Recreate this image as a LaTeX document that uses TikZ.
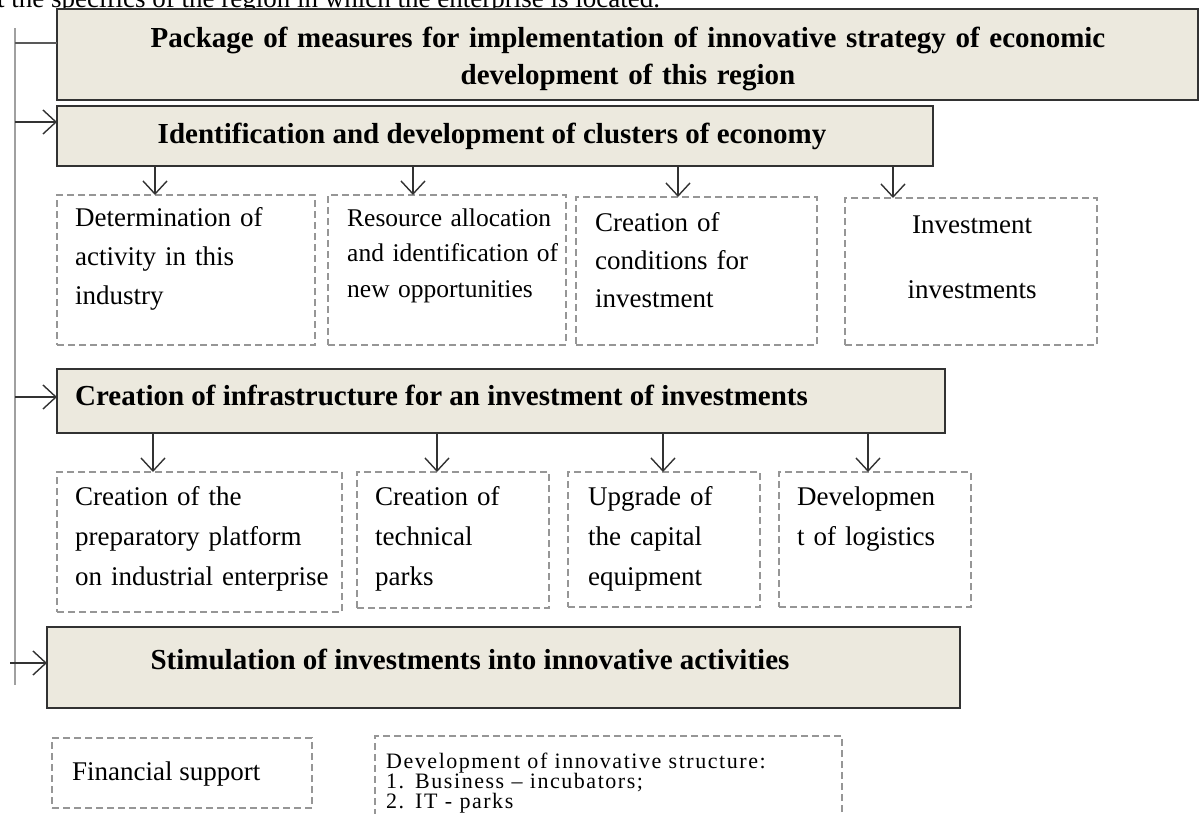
\documentclass[tikz,border=0pt]{standalone}
\usepackage{fontspec}
\setmainfont{Liberation Serif}
\usetikzlibrary{arrows.meta,fit}
\definecolor{beige}{RGB}{236,233,222}
\definecolor{dgray}{RGB}{150,150,150}
\definecolor{trunkc}{RGB}{160,160,160}
\definecolor{edge}{RGB}{50,50,50}
\begin{document}
\begin{tikzpicture}[x=1pt,y=-1pt,
  hbox/.style={draw=edge, line width=1.5pt, fill=beige, inner sep=0pt, outer sep=0pt},
  dbox/.style={draw=dgray, line width=1.3pt, dash pattern=on 7pt off 4pt, inner sep=0pt, outer sep=0pt},
  bt/.style={inner sep=0pt, font=\fontsize{29}{37}\selectfont\bfseries},
  rt/.style={inner sep=0pt, font=\fontsize{27}{39}\selectfont},
  st/.style={inner sep=0pt, font=\fontsize{22}{20}\selectfont\addfontfeatures{LetterSpace=7}},
  arr/.style={draw=edge, line width=1.4pt, -{Straight Barb[length=13pt,width=24pt]}},
  trunk/.style={draw=trunkc, line width=2.6pt},
  tick/.style={draw=black!65, line width=1.4pt}
]
\useasboundingbox (0,0) rectangle (1200,814);

% cut-off line of running text above the figure
\node[rt, anchor=base west] (hdr) at (-3,7) {t the specifics of the region in which the enterprise is located.};

% ---- heading box
\node[hbox, fit={(57,9)(1198,100)}] (T) {};
\node[bt, text width=1100pt, align=center, anchor=base] (tT) at (628,47)
  {Package of measures for implementation of innovative strategy of economic\\ development of this region};

% ---- trunk on the left
\coordinate (ktop) at (15,28);
\coordinate (kbot) at (15,685);
\draw[trunk] (ktop) -- (kbot);
\coordinate (k0) at (15,43);
\coordinate (k1) at (15,122);
\coordinate (k2) at (15,397);
\coordinate (k3) at (10,663);
\draw[tick] (k0) -- (k0 -| T.west);

% ---- level 1
\node[hbox, fit={(57,106)(933,166)}] (I) {};
\node[bt, anchor=base] (tI) at (492,143) {Identification and development of clusters of economy};
\draw[arr] (k1) -- (k1 -| I.west);

\node[dbox, fit={(57,195)(315,345)}] (A1) {};
\node[dbox, fit={(328,195)(566,345)}] (A2) {};
\node[dbox, fit={(576,197)(817,345)}] (A3) {};
\node[dbox, fit={(845,198)(1097,345)}] (A4) {};

\coordinate (xa1) at (155,0);
\coordinate (xa2) at (413,0);
\coordinate (xa3) at (678,0);
\coordinate (xa4) at (893,0);
\draw[arr] (I.south -| xa1) -- (A1.north -| xa1);
\draw[arr] (I.south -| xa2) -- (A2.north -| xa2);
\draw[arr] (I.south -| xa3) -- (A3.north -| xa3);
\draw[arr] (I.south -| xa4) -- (A4.north -| xa4);

\node[rt, text width=235pt, align=left, anchor=base west] (tA1) at (75,226)
  {Determination of\\ activity in this\\ industry};
\node[rt, font=\fontsize{25.5}{35.5}\selectfont, text width=230pt, align=left, anchor=base west] (tA2) at (347,226)
  {Resource allocation\\ and identification of\\ new opportunities};
\node[rt, font=\fontsize{27}{38}\selectfont, text width=220pt, align=left, anchor=base west] (tA3) at (595,231)
  {Creation of\\ conditions for\\ investment};
\node[rt, font=\fontsize{27}{65}\selectfont, text width=240pt, align=center, anchor=base] (tA4) at (972,233)
  {Investment\\ investments};

% ---- level 2
\node[hbox, fit={(57,369)(945,433)}] (C) {};
\node[bt, anchor=base west] (tC) at (75,405) {Creation of infrastructure for an investment of investments};
\draw[arr] (k2) -- (k2 -| C.west);

\node[dbox, fit={(57,472)(342,612)}] (B1) {};
\node[dbox, fit={(357,472)(549,608)}] (B2) {};
\node[dbox, fit={(568,472)(760,607)}] (B3) {};
\node[dbox, fit={(779,472)(971,607)}] (B4) {};

\coordinate (xb1) at (153,0);
\coordinate (xb2) at (437,0);
\coordinate (xb3) at (663,0);
\coordinate (xb4) at (868,0);
\draw[arr] (C.south -| xb1) -- (B1.north -| xb1);
\draw[arr] (C.south -| xb2) -- (B2.north -| xb2);
\draw[arr] (C.south -| xb3) -- (B3.north -| xb3);
\draw[arr] (C.south -| xb4) -- (B4.north -| xb4);

\node[rt, font=\fontsize{27}{40}\selectfont, text width=265pt, align=left, anchor=base west] (tB1) at (75,505)
  {Creation of the\\ preparatory platform\\ on industrial enterprise};
\node[rt, font=\fontsize{27}{40}\selectfont, text width=180pt, align=left, anchor=base west] (tB2) at (375,505)
  {Creation of\\ technical\\ parks};
\node[rt, font=\fontsize{27}{40}\selectfont, text width=180pt, align=left, anchor=base west] (tB3) at (588,505)
  {Upgrade of\\ the capital\\ equipment};
\node[rt, font=\fontsize{27}{40}\selectfont, text width=180pt, align=left, anchor=base west] (tB4) at (797,505)
  {Developmen\\ t of logistics};

% ---- level 3
\node[hbox, fit={(47,627)(960,708)}] (S) {};
\node[bt, anchor=base] (tS) at (470,669) {Stimulation of investments into innovative activities};
\draw[arr] (k3) -- (k3 -| S.west);

\node[dbox, fit={(52,738)(312,808)}] (F1) {};
\node[dbox, fit={(375,736)(842,840)}] (F2) {};
\node[rt, anchor=base west] (tF1) at (72,780) {Financial support};
\node[st, text width=440pt, align=left, anchor=base west] (tF2) at (386,768)
  {Development of innovative structure:\\ 1. Business – incubators;\\ 2. IT - parks};
\end{tikzpicture}
\end{document}
